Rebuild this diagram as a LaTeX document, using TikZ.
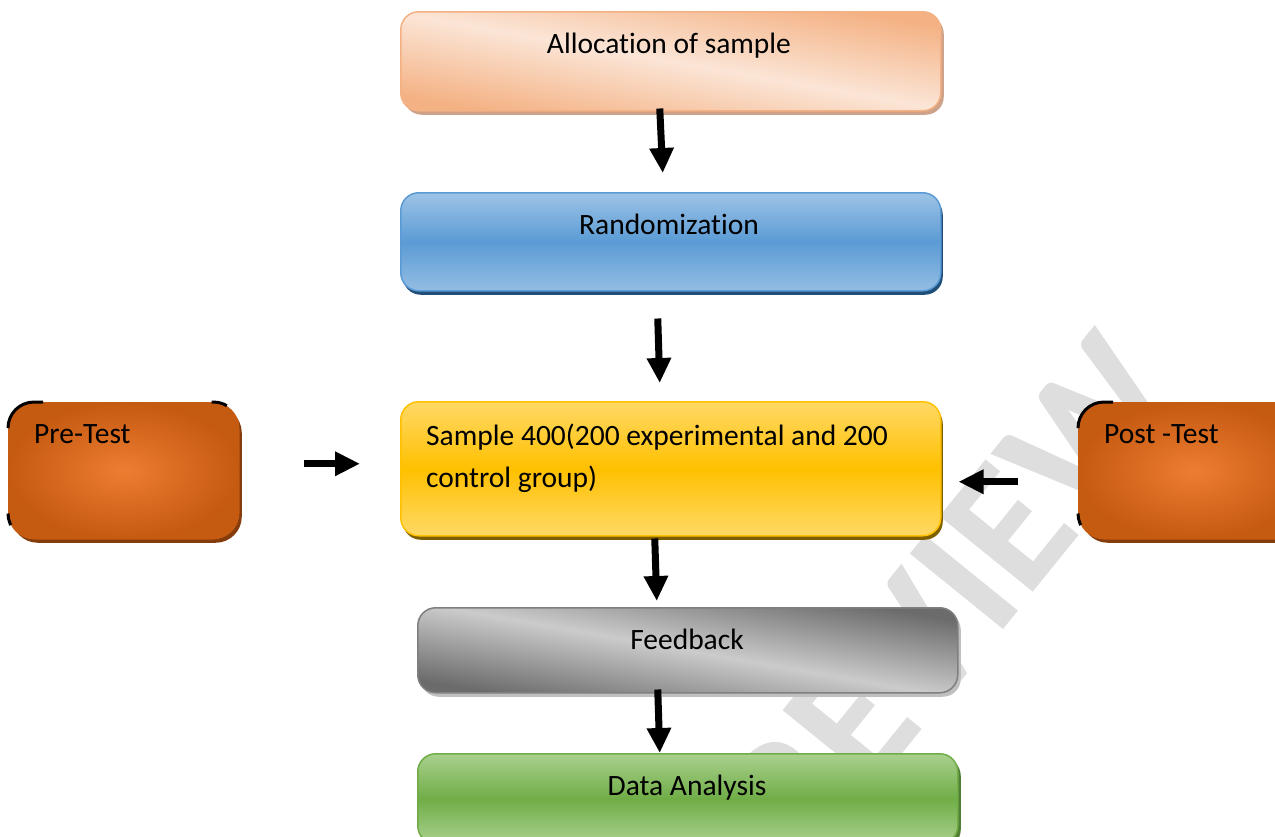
\documentclass[tikz,border=0pt]{standalone}
\usepackage{fontspec}
\setmainfont{Carlito}[Ligatures=NoCommon]
\usetikzlibrary{arrows.meta,shadows}
\definecolor{peachL}{HTML}{FBE5D6}
\definecolor{peachD}{HTML}{F4B183}
\definecolor{peachS}{HTML}{CDA288}
\definecolor{blueL}{HTML}{9DC3E6}
\definecolor{blueM}{HTML}{5B9BD5}
\definecolor{blueS}{HTML}{1F4E79}
\definecolor{yelL}{HTML}{FFD966}
\definecolor{yelM}{HTML}{FFC000}
\definecolor{yelS}{HTML}{7F6000}
\definecolor{oraI}{HTML}{ED7D31}
\definecolor{oraO}{HTML}{C55A11}
\definecolor{oraS}{HTML}{843C0C}
\definecolor{grayD}{HTML}{6B6B6B}
\definecolor{grayL}{HTML}{CBCBCB}
\definecolor{grayB}{HTML}{7F7F7F}
\definecolor{grayS}{HTML}{BFBFBF}
\definecolor{grnL}{HTML}{A9D18E}
\definecolor{grnM}{HTML}{70AD47}
\definecolor{grnS}{HTML}{507E33}
\definecolor{wmark}{HTML}{DEDEDE}
\begin{document}
\begin{tikzpicture}[x=1pt,y=-1pt,
  box/.style={rounded corners=18pt, line width=1.5pt, inner sep=0pt, anchor=north west},
  sideBox/.style={box, rounded corners=26pt, draw=oraO, inner color=oraI, outer color=oraO,
    minimum width=230pt, minimum height=136pt,
    drop shadow={shadow xshift=3pt, shadow yshift=-4pt, fill=oraS, opacity=1}},
  corner/.style={draw=black, line width=3pt, rounded corners=26pt},
  txt/.style={font=\fontsize{29.5}{42}\selectfont, inner sep=0pt, text=black},
  arr/.style={line width=7pt, -{Triangle[length=25pt,width=23pt]}}]
\useasboundingbox (0,0) rectangle (1275,836);
\clip (0,0) rectangle (1275,836);
% watermark
\node[text=wmark, font=\fontsize{185}{185}\selectfont\bfseries, rotate=51] (wm) at (950,600) {REVIEW};
% boxes
\node[box, minimum width=540pt, minimum height=99pt, draw=peachD,
  top color=peachD, bottom color=peachD, middle color=peachL, shading angle=-10,
  drop shadow={shadow xshift=3pt, shadow yshift=-4pt, fill=peachS, opacity=1}] (alloc) at (400,11) {};
\node[txt, anchor=base] (allocT) at (669,53) {Allocation of sample};
\node[box, minimum width=540pt, minimum height=98pt, draw=blueM,
  top color=blueL, bottom color=blueL!85!blueM, middle color=blueM,
  drop shadow={shadow xshift=2pt, shadow yshift=-4pt, fill=blueS, opacity=1}] (rand) at (400,192) {};
\node[txt, anchor=base] (randT) at (669,234) {Randomization};
\node[box, minimum width=540pt, minimum height=134pt, draw=yelM,
  top color=yelL, bottom color=yelL, middle color=yelM,
  drop shadow={shadow xshift=2pt, shadow yshift=-4pt, fill=yelS, opacity=1}] (samp) at (400,401) {};
\node[txt, anchor=base west, align=left] (sampT) at (426,487) {Sample 400(200 experimental and 200\\control group)};
\node[sideBox] (pre) at (8,402) {};
\node[txt, anchor=base west] (preT) at (34,443) {Pre-Test};
\node[sideBox] (post) at (1078,402) {};
\node[txt, anchor=base west] (postT) at (1104,443) {Post -Test};
\foreach \b in {pre,post}{
  \draw[corner, dash pattern=on 52pt off 400pt] ([yshift=-24pt]\b.north west) -- (\b.north west) -- ([xshift=60pt]\b.north west);
  \draw[corner, dash pattern=on 0pt off 12pt on 16pt off 400pt] ([xshift=-40pt]\b.north east) -- (\b.north east) -- ([yshift=-60pt]\b.north east);
  \draw[corner, dash pattern=on 0pt off 6pt on 12pt off 400pt] ([yshift=32pt]\b.south west) -- (\b.south west) -- ([xshift=60pt]\b.south west);
}
\node[box, minimum width=540pt, minimum height=85pt, draw=grayB,
  top color=grayD, bottom color=grayD, middle color=grayL, shading angle=-10,
  drop shadow={shadow xshift=3pt, shadow yshift=-4pt, fill=grayS, opacity=1}] (fb) at (417,607) {};
\node[txt, anchor=base] (fbT) at (687,649) {Feedback};
\node[box, minimum width=540pt, minimum height=90pt, draw=grnM,
  top color=grnL, bottom color=grnL, middle color=grnM,
  drop shadow={shadow xshift=3pt, shadow yshift=-4pt, fill=grnS, opacity=1}] (da) at (417,753) {};
\node[txt, anchor=base] (daT) at (687,795) {Data Analysis};
% arrows
\draw[arr] ([xshift=-11pt,yshift=3pt]alloc.south) -- ([xshift=-8pt,yshift=19pt]rand.north);
\draw[arr] ([xshift=-13pt,yshift=-27pt]rand.south) -- ([xshift=-11pt,yshift=18pt]samp.north);
\draw[arr] ([xshift=64pt,yshift=7pt]pre.east) -- ([xshift=-40pt,yshift=5pt]samp.west);
\draw[arr] ([xshift=-60pt,yshift=-11pt]post.west) -- ([xshift=17pt,yshift=-13pt]samp.east);
\draw[arr] ([xshift=-16pt,yshift=-2pt]samp.south) -- ([xshift=-31pt,yshift=6pt]fb.north);
\draw[arr] ([xshift=-30pt,yshift=4pt]fb.south) -- ([xshift=-28pt,yshift=0pt]da.north);
\end{tikzpicture}
\end{document}
